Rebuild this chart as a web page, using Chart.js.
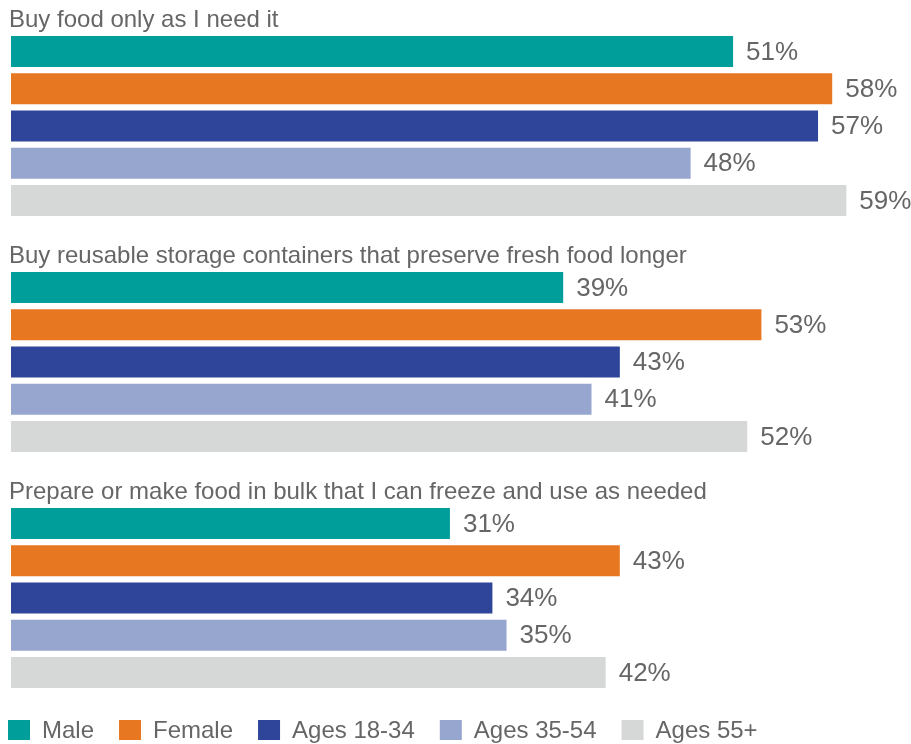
<!DOCTYPE html>
<html lang="en">
<head>
    <meta charset="UTF-8">
    <title>Food waste habits</title>
    <script src="https://cdn.jsdelivr.net/npm/chart.js"></script>
    <style>
        html, body { margin: 0; padding: 0; background: #fff; }
        #wrap { width: 911px; height: 744px; position: relative; }
    </style>
</head>
<body>
    <div id="wrap"><canvas id="habitsChart"></canvas></div>

    <script>
        // data
        const categories = [
            'Buy food only as I need it',
            'Buy reusable storage containers that preserve fresh food longer',
            'Prepare or make food in bulk that I can freeze and use as needed'
        ];
        const seriesNames = ['Male', 'Female', 'Ages 18-34', 'Ages 35-54', 'Ages 55+'];
        const male = [51, 39, 31];
        const female = [58, 53, 43];
        const ages1834 = [57, 43, 34];
        const ages3554 = [48, 41, 35];
        const ages55 = [59, 52, 42];

        const colors = ['#009e9a', '#e87722', '#2e4599', '#96a6cf', '#d6d8d8'];
        const textColor = '#666666';
        const fontFamily = '"Liberation Sans", Arial, Helvetica, sans-serif';

        const allSeries = [male, female, ages1834, ages3554, ages55];

        // group titles above each block of bars
        const groupTitles = {
            id: 'groupTitles',
            afterDatasetsDraw(chart) {
                const ctx = chart.ctx;
                const y = chart.scales.y;
                const band = y.height / categories.length;
                ctx.save();
                ctx.fillStyle = textColor;
                ctx.font = '24px ' + fontFamily;
                ctx.textAlign = 'left';
                ctx.textBaseline = 'alphabetic';
                categories.forEach((c, i) => {
                    const top = y.getPixelForTick(i) - band / 2;
                    ctx.fillText(c, chart.chartArea.left - 2, top + 18.5);
                });
                ctx.restore();
            }
        };

        // percentage labels at bar ends
        const valueLabels = {
            id: 'valueLabels',
            afterDatasetsDraw(chart) {
                const ctx = chart.ctx;
                ctx.save();
                ctx.fillStyle = textColor;
                ctx.font = '26px ' + fontFamily;
                ctx.textAlign = 'left';
                ctx.textBaseline = 'middle';
                chart.data.datasets.forEach((ds, di) => {
                    chart.getDatasetMeta(di).data.forEach((bar, i) => {
                        ctx.fillText(ds.data[i] + '%', bar.x + 13, bar.y + 1);
                    });
                });
                ctx.restore();
            }
        };

        // legend row along the bottom edge
        const bottomLegend = {
            id: 'bottomLegend',
            afterDraw(chart) {
                const ctx = chart.ctx;
                ctx.save();
                ctx.font = '24px ' + fontFamily;
                ctx.textBaseline = 'middle';
                ctx.textAlign = 'left';
                let x = 8;
                chart.data.datasets.forEach(ds => {
                    ctx.fillStyle = ds.backgroundColor;
                    ctx.fillRect(x, 720, 22, 20);
                    x += 22 + 12;
                    ctx.fillStyle = textColor;
                    ctx.fillText(ds.label, x, 731);
                    x += ctx.measureText(ds.label).width + 25;
                });
                ctx.restore();
            }
        };

        new Chart(document.getElementById('habitsChart'), {
            type: 'bar',
            data: {
                labels: categories,
                datasets: seriesNames.map((name, i) => ({
                    label: name,
                    data: allSeries[i],
                    backgroundColor: colors[i],
                    borderWidth: 0,
                    barPercentage: 0.832,
                    categoryPercentage: 0.789
                }))
            },
            options: {
                indexAxis: 'y',
                responsive: true,
                maintainAspectRatio: false,
                animation: false,
                layout: { padding: { left: 11, right: 8, top: 8, bottom: 28 } },
                scales: {
                    x: { display: false, min: 0, max: 63 },
                    y: { display: false }
                },
                plugins: {
                    tooltip: { enabled: false },
                    legend: { display: false }
                }
            },
            plugins: [groupTitles, valueLabels, bottomLegend]
        });
    </script>
</body>
</html>
